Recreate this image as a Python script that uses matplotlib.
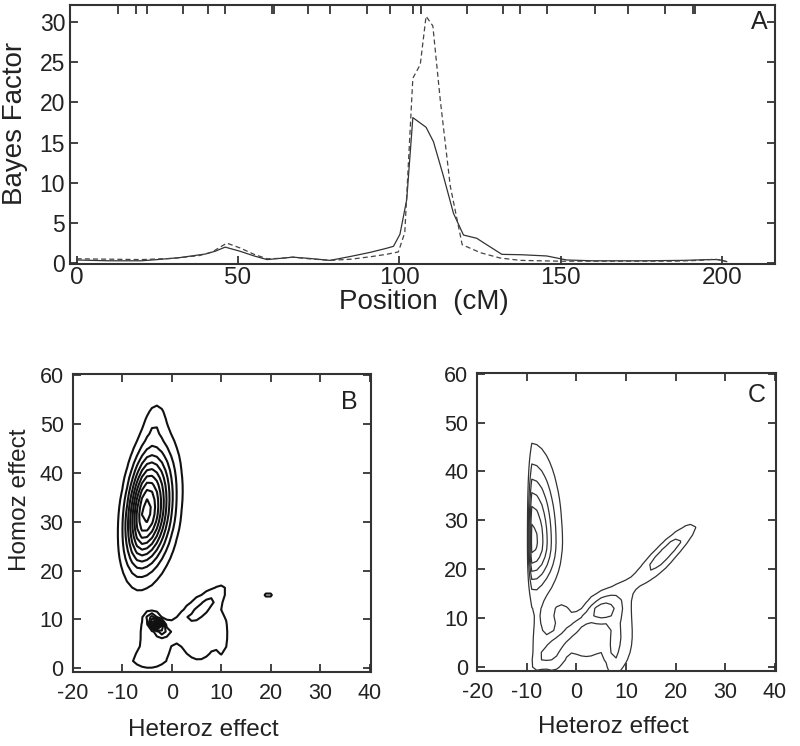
import numpy as np
import matplotlib
matplotlib.use('Agg')
import matplotlib.pyplot as plt
from matplotlib.ticker import FixedLocator

plt.rcParams['font.family'] = ['Liberation Sans', 'DejaVu Sans']
plt.rcParams['axes.unicode_minus'] = False

INK = '#222222'

# --- Panel A: Bayes factor along the chromosome ---
pos_solid = [0, 10, 20, 25, 32, 40, 43, 46, 50.5, 55, 59, 63, 67, 72, 78.5, 85, 91,
             96, 98.2, 100.2, 102.3, 104.2, 108.3, 110.6, 113.7, 116.8, 119.9, 124,
             127.1, 131.8, 138, 145.7, 151.9, 160, 175, 188, 196, 199, 201.5]
bf_solid = [0.4, 0.3, 0.3, 0.45, 0.7, 1.15, 1.5, 2.0, 1.5, 0.9, 0.45, 0.6, 0.75, 0.6,
            0.35, 0.85, 1.35, 1.85, 2.1, 3.6, 7.9, 18.1, 16.9, 15.1, 10.8, 6.2, 3.5,
            3.1, 2.3, 1.1, 1.05, 0.9, 0.4, 0.3, 0.3, 0.35, 0.45, 0.45, 0.2]

pos_dash = [0, 10, 20, 30, 38, 42, 46.5, 50.6, 55, 59, 63, 67, 72, 78.5, 85, 91, 96,
            99.7, 101.7, 104.2, 106.5, 108.3, 110.4, 112.7, 115.8, 119.5, 125.2,
            131.2, 137.5, 150, 170, 185, 193, 198, 201.5]
bf_dash = [0.55, 0.5, 0.45, 0.6, 0.95, 1.4, 2.5, 1.9, 1.1, 0.55, 0.6, 0.75, 0.55, 0.35,
           0.5, 0.8, 1.1, 1.4, 3.8, 23.0, 24.7, 30.7, 29.5, 20.3, 9.6, 2.3, 1.3, 0.65,
           0.35, 0.25, 0.25, 0.25, 0.35, 0.5, 0.2]

# marker positions shown as ticks along the top of panel A (cM)
marker_pos = [12.9, 18.4, 21.7, 32.9, 40.8, 46.0, 60.5, 61.2, 71.8, 78.5, 89.9, 97.1,
              104.4, 106.7, 120.9, 132.1, 137.5, 145.7, 160.7, 171.0, 182.5, 191.0, 191.7]

# --- Panels B and C: posterior density of (heteroz, homoz) effects ---
# each density is a sum of skewed gaussian bumps
#          main  tail  spike sbase lblk  foot  rblk  loop  rcol  conn  blip
b_cx    = [-5.2, -3.3, -3.0, -4.0, -4.0, -5.5, 5.5, 7.6, 10.5, 1.0, 19.5]
b_cy    = [32.0, 51.0, 9.0, 9.0, 5.0, 1.5, 7.0, 13.5, 7.0, 8.5, 15.0]
b_sxl   = [2.5, 1.5, 0.8, 1.5, 2.8, 3.0, 3.8, 1.4, 1.0, 1.3, 0.7]
b_sxr   = [3.3, 1.5, 0.8, 1.5, 2.8, 3.0, 3.8, 1.4, 1.0, 1.3, 0.7]
b_syd   = [7.3, 3.0, 0.9, 1.5, 3.5, 1.3, 6.0, 2.6, 5.0, 2.5, 0.6]
b_syu   = [8.3, 3.0, 0.9, 1.5, 4.5, 1.3, 7.5, 2.6, 5.0, 2.5, 0.6]
b_shear = [0.1, 0.1, -0.7, 0.0, 0.0, 0.0, 0.0, 0.8, 0.0, 1.0, 0.0]
b_amp   = [10.5, 1.0, 9.0, 0.6, 1.35, 0.9, 1.45, 1.5, 0.7, 0.9, 1.6]

#          main  lcol  foot  arm   top   rcol  rbrd  ridge uloop base  conn  ufill
c_cx    = [-9.0, -8.0, -5.0, -1.5, 5.5, 7.5, 9.5, 15.0, 19.2, 2.0, -3.0, 6.0]
c_cy    = [25.5, 5.0, 2.5, 7.0, 11.2, 4.0, 8.0, 19.5, 24.8, 5.0, 11.0, 14.0]
c_sxl   = [0.4, 1.0, 1.5, 1.4, 1.8, 0.9, 1.5, 2.2, 1.8, 6.5, 1.5, 3.5]
c_sxr   = [3.2, 1.0, 1.5, 1.4, 1.8, 0.9, 1.5, 2.2, 1.8, 6.5, 1.5, 3.5]
c_syd   = [6.0, 4.5, 2.5, 4.5, 1.8, 5.0, 6.0, 3.0, 3.5, 5.5, 2.0, 2.5]
c_syu   = [10.5, 7.0, 2.5, 4.5, 1.8, 5.0, 6.0, 3.0, 3.5, 5.5, 2.0, 2.5]
c_shear = [0.0, 0.0, 0.0, 1.0, 0.3, 0.0, 0.0, 1.0, 0.95, 0.0, 0.0, 0.0]
c_amp   = [6.4, 0.9, 1.3, 1.6, 2.5, 1.2, 1.2, 1.3, 2.3, 1.15, 0.8, 0.8]

b_levels = np.arange(1, 11)
c_levels = np.arange(1, 7)


def density(X, Y, cx, cy, sxl, sxr, syd, syu, shear, amp):
    Z = np.zeros_like(X)
    for i in range(len(cx)):
        dy = Y - cy[i]
        dx = X - cx[i] - shear[i] * dy
        sx = np.where(dx < 0, sxl[i], sxr[i])
        sy = np.where(dy < 0, syd[i], syu[i])
        Z += amp[i] * np.exp(-0.5 * ((dx / sx) ** 2 + (dy / sy) ** 2))
    return Z


def style_frame(ax):
    for s in ax.spines.values():
        s.set_linewidth(1.5)
        s.set_color('#333333')


fig = plt.figure(figsize=(8, 7.46), dpi=100)

# ---------------- Panel A ----------------
axA = fig.add_axes([0.0875, 0.6461, 0.8813, 0.3472])
axA.plot(pos_solid, bf_solid, color='#333333', lw=0.9)
axA.plot(pos_dash, bf_dash, color='#444444', lw=0.9, ls=(0, (4, 2.5)))
axA.set_xlim(-2.1, 216.5)
axA.set_ylim(-0.1, 32.1)
axA.set_xticks([0, 50, 100, 150, 200])
axA.set_yticks([0, 5, 10, 15, 20, 25, 30])
axA.xaxis.set_minor_locator(FixedLocator(marker_pos))
axA.tick_params(axis='x', which='major', direction='in', top=False, bottom=True,
                length=6, width=1.2, labelsize=17.5, pad=2.5, colors=INK)
axA.tick_params(axis='x', which='minor', direction='in', top=True, bottom=False,
                length=6.5, width=1.2, color=INK)
axA.tick_params(axis='y', direction='in', left=True, right=True, length=6, width=1.2,
                labelsize=16.5, pad=3.5, colors=INK)
axA.set_ylabel('Bayes Factor', fontsize=20, color=INK)
axA.yaxis.set_label_coords(-0.078, 0.544)
axA.yaxis.label.set_verticalalignment('center')
axA.set_xlabel('Position  (cM)', fontsize=20, color=INK)
axA.xaxis.set_label_coords(0.502, -0.147)
axA.xaxis.label.set_verticalalignment('center')
axA.text(211.7, 30, 'A', fontsize=18, ha='center', va='center', color=INK)
style_frame(axA)

# ---------------- Panels B and C ----------------
gx = np.arange(-20, 40.01, 1.0)
gy = np.arange(-1.5, 61.01, 1.5)
X, Y = np.meshgrid(gx, gy)
ZB = density(X, Y, b_cx, b_cy, b_sxl, b_sxr, b_syd, b_syu, b_shear, b_amp)
ZC = density(X, Y, c_cx, c_cy, c_sxl, c_sxr, c_syd, c_syu, c_shear, c_amp)

axB = fig.add_axes([0.0909, 0.0988, 0.3725, 0.3999])
axC = fig.add_axes([0.5966, 0.1005, 0.373, 0.3999])

axB.contour(X, Y, ZB, levels=b_levels, colors='#111111', linewidths=1.5)
axC.contour(X, Y, ZC, levels=c_levels, colors='#333333', linewidths=0.9)

for ax, letter, lx, ly in [(axB, 'B', 0.927, 0.907), (axC, 'C', 0.937, 0.925)]:
    ax.set_xlim(-20, 40.2)
    ax.set_ylim(-0.8, 60.2)
    ax.set_xticks([-20, -10, 0, 10, 20, 30, 40])
    ax.set_yticks([0, 10, 20, 30, 40, 50, 60])
    ax.tick_params(direction='in', top=True, right=True, length=5.5, width=1.2,
                   labelsize=15.5, colors=INK)
    ax.tick_params(axis='x', pad=8)
    ax.tick_params(axis='y', pad=6.5)
    ax.set_xlabel('Heteroz effect', fontsize=17.5, color=INK)
    ax.xaxis.label.set_verticalalignment('center')
    ax.text(lx, ly, letter, transform=ax.transAxes, fontsize=18, ha='center',
            va='center', color=INK)
    style_frame(ax)

axB.xaxis.set_label_coords(0.437, -0.193)
axC.xaxis.set_label_coords(0.456, -0.187)
axB.set_ylabel('Homoz effect', fontsize=17.5, color=INK)
axB.yaxis.set_label_coords(-0.177, 0.578)
axB.yaxis.label.set_verticalalignment('center')

fig.savefig('out.png', dpi=100)
